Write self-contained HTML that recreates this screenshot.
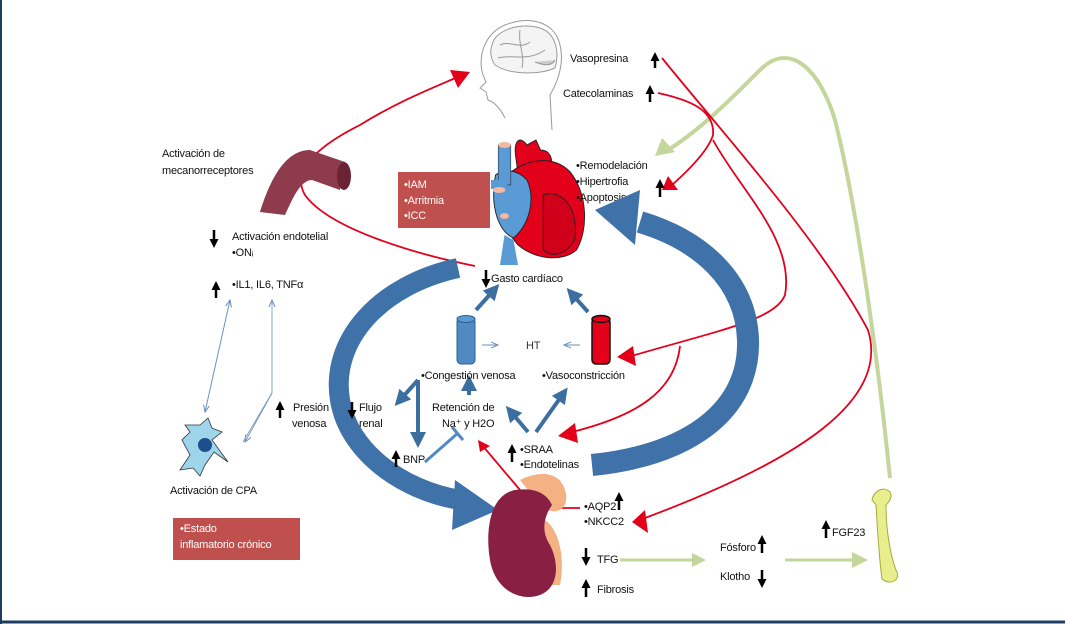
<!DOCTYPE html>
<html><head><meta charset="utf-8"><style>
html,body{margin:0;padding:0;background:#fff}
svg{display:block}
text{font-family:"Liberation Sans",sans-serif;font-size:11px;fill:#111;letter-spacing:-0.2px}
</style></head><body>
<svg width="1065" height="624" viewBox="0 0 1065 624" xmlns="http://www.w3.org/2000/svg">
<defs>
<marker id="bk" markerWidth="9" markerHeight="9" refX="4" refY="4.5" orient="auto" markerUnits="userSpaceOnUse"><path d="M0,0L9,4.5L0,9z" fill="#000"/></marker>
<marker id="tb" markerWidth="8" markerHeight="8" refX="7" refY="4" orient="auto" markerUnits="userSpaceOnUse"><path d="M0,1L7,4L0,7" fill="none" stroke="#6a8fbf" stroke-width="1"/></marker>
<marker id="bh" markerWidth="4" markerHeight="4" refX="2" refY="2" orient="auto"><path d="M0,0L4,2L0,4z" fill="#3c6fa0"/></marker>
</defs>
<rect x="0" y="0" width="1065" height="624" fill="#fff"/>
<line x1="1" y1="0" x2="1" y2="624" stroke="#1f3d5f" stroke-width="2"/>
<line x1="0" y1="622" x2="1065" y2="622" stroke="#1f3d5f" stroke-width="3"/>

<!-- head -->
<g fill="none" stroke="#999" stroke-width="1">
<path d="M505,118 C500,108 494,102 488,100 L486,92 L480,88 L486,82 L483,75 C478,60 482,35 505,25 C530,15 555,22 560,45 C565,65 556,85 550,95 L552,130"/>
<path d="M492,45 C495,30 520,22 540,28 C555,33 560,50 555,68 C540,75 510,75 495,65 C490,58 490,50 492,45z" fill="#f4f4f4"/>
<path d="M500,45 C510,40 520,50 530,42 M498,58 C512,54 528,62 545,50 M520,30 C518,45 525,55 522,68"/>
<path d="M535,62 C545,66 552,66 555,60" fill="#ccc"/>
</g>
<text x="570" y="62">Vasopresina</text>
<text x="563" y="97">Catecolaminas</text>

<!-- green curve -->
<path d="M890,478 C880,380 860,220 835,120 C820,70 790,40 760,70 C730,100 700,130 668,150" fill="none" stroke="#c4d69b" stroke-width="4"/>
<path d="M655,156 L662,138 L675,152z" fill="#c4d69b"/>

<!-- red lines -->
<g fill="none" stroke="#e3001b" stroke-width="1.8">
<path d="M662,58 C720,130 820,240 868,330 C890,400 800,460 645,518"/>
<path d="M658,93 C690,100 715,110 713,135 C710,145 700,160 672,185"/>
<path d="M713,140 C740,190 795,240 785,295 C775,320 720,330 628,357"/>
<path d="M680,346 C675,390 640,415 572,432"/>
<path d="M475,266 C420,255 330,230 305,195 C290,170 320,145 360,125 C400,100 440,85 460,76"/>
<path d="M520,490 L482,445"/>
<path d="M535,508 L580,508"/>
</g>
<g fill="#e3001b">
<path d="M470,72 L450,70 L458,88z"/>
<path d="M662,190 L668,176 L678,190z"/>
<path d="M617,357 L633,346 L636,366z"/>
<path d="M558,436 L575,423 L578,443z"/>
<path d="M632,522 L645,510 L648,533z"/>
<path d="M478,440 L490,446 L480,452z"/>
</g>

<!-- vessel mechanoreceptor -->
<path d="M260,212 C270,180 285,150 310,150 L345,162 L340,190 L312,180 C300,180 292,200 285,215z" fill="#8e3b4e"/>
<ellipse cx="344" cy="176" rx="7" ry="14" fill="#6b2233"/>
<text x="162" y="157">Activación de</text>
<text x="162" y="174">mecanorreceptores</text>

<!-- IAM box -->
<rect x="398" y="172" width="92" height="56" fill="#c0504d"/>
<text x="404" y="188" style="fill:#fff">•IAM</text>
<text x="404" y="204" style="fill:#fff">•Arritmia</text>
<text x="404" y="219" style="fill:#fff">•ICC</text>

<!-- heart -->
<g transform="translate(500,0) scale(0.9,1) translate(-500,0)">
<g stroke="#222" stroke-width="1">
<path d="M518,160 C514,140 522,135 530,145 L540,140 L545,150 C555,150 560,158 556,170 L520,175z" fill="#e3001b"/>
<path d="M508,175 C530,158 560,155 578,172 C598,195 598,230 585,250 C570,262 540,260 520,245 C500,225 498,195 508,175z" fill="#e3001b"/>
<path d="M495,175 C505,168 520,170 530,180 C540,200 532,225 515,238 C500,232 488,210 495,175z" fill="#5b9bd5"/>
<path d="M548,195 C570,188 588,210 583,240 C573,255 558,258 548,250z" fill="#d0001a"/>
</g>
<rect x="498" y="145" width="14" height="40" fill="#5b9bd5" stroke="#222" stroke-width="0.6"/>
<ellipse cx="505" cy="145" rx="7" ry="3" fill="#f4b8a0"/>
<rect x="490" y="180" width="18" height="9" fill="#5b9bd5"/>
<ellipse cx="499" cy="190" rx="7" ry="3" fill="#f4b8a0"/>
<path d="M505,235 L500,265 L520,265 L515,240z" fill="#5b9bd5"/>
<ellipse cx="505" cy="216" rx="5" ry="3" fill="#f4b8a0"/>
</g>
<text x="576" y="169">•Remodelación</text>
<text x="576" y="185">•Hipertrofia</text>
<text x="576" y="201">•Apoptosis</text>

<!-- big blue arrows -->
<path d="M458,268 C380,285 330,340 340,400 C348,450 400,490 460,500" fill="none" stroke="#3e72a8" stroke-width="20"/>
<path d="M455,480 L498,510 L452,530z" fill="#3e72a8"/>
<path d="M592,465 C690,455 750,410 748,340 C746,280 700,240 640,222" fill="none" stroke="#3e72a8" stroke-width="22"/>
<path d="M595,210 L640,190 L635,245z" fill="#3e72a8"/>

<!-- center -->
<text x="491" y="282">Gasto cardíaco</text>
<rect x="457" y="318" width="18" height="46" rx="4" fill="#4f8ac2" stroke="#2e5e8e"/>
<ellipse cx="466" cy="319" rx="9" ry="3.5" fill="#5b9bd5" stroke="#2e5e8e"/>
<rect x="592" y="318" width="18" height="46" rx="4" fill="#e3001b" stroke="#111" stroke-width="1.5"/>
<ellipse cx="601" cy="319" rx="9" ry="3.5" fill="#e3001b" stroke="#111" stroke-width="1.5"/>
<text x="526" y="349" style="fill:#333">HT</text>
<line x1="482" y1="345" x2="498" y2="345" stroke="#6a8fbf" marker-end="url(#tb)"/>
<line x1="580" y1="345" x2="564" y2="345" stroke="#6a8fbf" marker-end="url(#tb)"/>
<g stroke="#3c6fa0" stroke-width="4" fill="none">
<line x1="476" y1="310" x2="494" y2="290" marker-end="url(#bh)"/>
<line x1="588" y1="312" x2="572" y2="294" marker-end="url(#bh)"/>
<line x1="469" y1="395" x2="469" y2="383" marker-end="url(#bh)"/>
<line x1="528" y1="432" x2="511" y2="412" marker-end="url(#bh)"/>
<line x1="536" y1="432" x2="563" y2="394" marker-end="url(#bh)"/>
<line x1="418" y1="380" x2="418" y2="440" marker-end="url(#bh)"/>
<line x1="418" y1="380" x2="400" y2="400" marker-end="url(#bh)"/>
</g>
<path d="M425,462 L458,433 M452,427 L463,440" stroke="#4f8ac2" stroke-width="3" fill="none"/>
<text x="421" y="379">•Congestión venosa</text>
<text x="542" y="379">•Vasoconstricción</text>
<text x="432" y="411">Retención de</text>
<text x="442" y="427">Na⁺ y H2O</text>
<text x="359" y="411">Flujo</text>
<text x="359" y="427">renal</text>
<text x="403" y="463">BNP</text>
<text x="520" y="453">•SRAA</text>
<text x="520" y="468">•Endotelinas</text>
<text x="293" y="411">Presión</text>
<text x="292" y="427">venosa</text>

<!-- left texts -->
<text x="232" y="240">Activación endotelial</text>
<text x="232" y="256">•ONᵢ</text>
<text x="232" y="288">•IL1, IL6, TNFα</text>
<g stroke="#6a8fbf" stroke-width="0.8" fill="none">
<line x1="230" y1="300" x2="205" y2="412" marker-end="url(#tb)"/>
<line x1="205" y1="412" x2="230" y2="300" marker-end="url(#tb)"/>
<path d="M243,442 L272,393 L272,300" marker-end="url(#tb)"/>
<line x1="272" y1="393" x2="245" y2="442" marker-end="url(#tb)"/>
</g>
<!-- CPA cell -->
<path d="M185,425 L200,425 L208,418 L212,428 L222,432 L212,440 L228,462 L214,452 L205,465 L200,476 L193,468 L180,470 L190,455 L182,440 L190,432z" fill="#9fd5ea" stroke="#333" stroke-width="0.8"/>
<circle cx="205" cy="445" r="7" fill="#1f4e8c"/>
<text x="170" y="494">Activación de CPA</text>
<rect x="173" y="518" width="127" height="42" fill="#c0504d"/>
<text x="180" y="532" style="fill:#fff">•Estado</text>
<text x="180" y="548" style="fill:#fff">inflamatorio crónico</text>

<!-- kidney -->
<path d="M520,480 C540,470 560,472 565,490 C570,505 560,515 548,510 L540,505z" fill="#f4b183"/>
<path d="M545,520 C560,530 565,560 560,585 L550,585 C553,560 548,540 538,530z" fill="#f4b183"/>
<path d="M515,490 C490,495 485,530 490,560 C495,590 520,602 540,595 C558,588 560,565 550,545 C540,530 545,515 552,505 C545,490 530,488 515,490z" fill="#8a1f44"/>
<text x="584" y="510">•AQP2</text>
<text x="584" y="525">•NKCC2</text>
<text x="597" y="563">TFG</text>
<text x="597" y="593">Fibrosis</text>
<line x1="620" y1="560" x2="695" y2="560" stroke="#c4d69b" stroke-width="3"/>
<path d="M706,560 L692,553 L692,567z" fill="#c4d69b"/>
<text x="720" y="551">Fósforo</text>
<text x="720" y="580">Klotho</text>
<line x1="785" y1="560" x2="855" y2="560" stroke="#c4d69b" stroke-width="3"/>
<path d="M868,560 L852,552 L852,568z" fill="#c4d69b"/>
<text x="832" y="536">FGF23</text>
<!-- bone -->
<path d="M872,500 C874,490 884,486 890,492 C893,497 889,502 886,505 C886,535 892,560 896,570 C902,580 890,586 882,579 C880,565 878,540 876,505z" fill="#e8ee8c" stroke="#a5ab3c" stroke-width="1"/>

<!-- black arrows -->
<g stroke="#000" stroke-width="2.5" fill="none">
<path d="M655,68 L655,57" marker-end="url(#bk)"/>
<path d="M650,102 L650,90" marker-end="url(#bk)"/>
<path d="M660,197 L660,184" marker-end="url(#bk)"/>
<path d="M214,230 L214,243" marker-end="url(#bk)"/>
<path d="M216,298 L216,286" marker-end="url(#bk)"/>
<path d="M486,270 L486,283" marker-end="url(#bk)"/>
<path d="M280,418 L280,406" marker-end="url(#bk)"/>
<path d="M352,402 L352,414" marker-end="url(#bk)"/>
<path d="M396,467 L396,455" marker-end="url(#bk)"/>
<path d="M512,462 L512,449" marker-end="url(#bk)"/>
<path d="M619,510 L619,497" marker-end="url(#bk)"/>
<path d="M586,548 L586,561" marker-end="url(#bk)"/>
<path d="M586,597 L586,584" marker-end="url(#bk)"/>
<path d="M762,553 L762,540" marker-end="url(#bk)"/>
<path d="M762,570 L762,583" marker-end="url(#bk)"/>
<path d="M826,538 L826,525" marker-end="url(#bk)"/>
</g>
</svg>
</body></html>
